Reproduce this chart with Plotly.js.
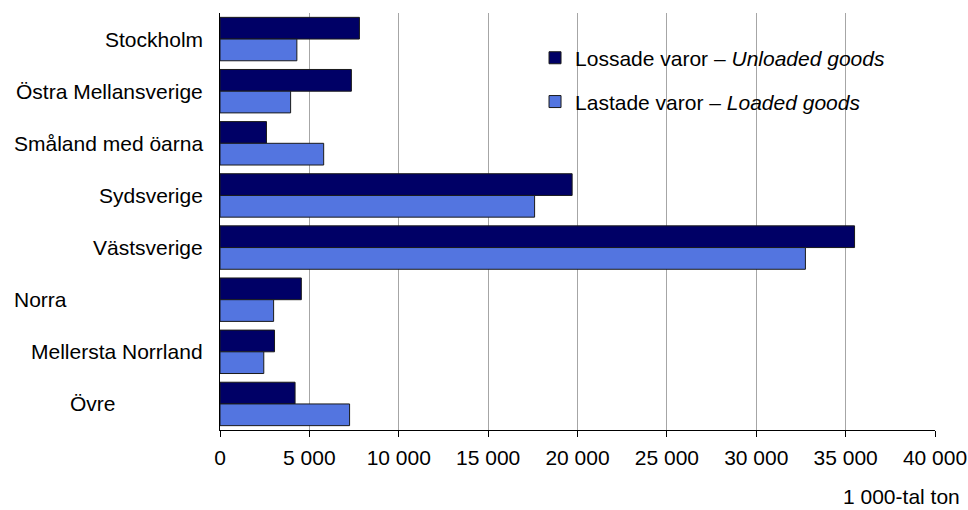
<!DOCTYPE html>
<html>
<head>
<meta charset="utf-8">
<script src="https://cdn.plot.ly/plotly-3.0.1.min.js"></script>
<style>
  html, body { margin: 0; padding: 0; background: #ffffff; }
  #chart { width: 968px; height: 510px; }
</style>
</head>
<body>
<div id="chart"></div>
<script>
// ---- Data (1 000-tal ton) ----
const categories = [
  "Stockholm",
  "Östra Mellansverige",
  "Småland med öarna",
  "Sydsverige",
  "Västsverige",
  "Norra",
  "Mellersta Norrland",
  "Övre"
];
const unloadedValues = [7800, 7350, 2600, 19700, 35500, 4550, 3050, 4200];
const loadedValues   = [4300, 3950, 5800, 17600, 32750, 3000, 2450, 7250];
const seriesNames = [
  "Lossade varor – <i>Unloaded goods</i>",
  "Lastade varor – <i>Loaded goods</i>"
];
const tickValues = [0, 5000, 10000, 15000, 20000, 25000, 30000, 35000, 40000];
const tickLabels = ["0", "5 000", "10 000", "15 000", "20 000", "25 000", "30 000", "35 000", "40 000"];
const unitLabel = "1 000-tal ton";

// ---- Styling ----
const FONT = "Liberation Sans, Arial, Helvetica, sans-serif";
const FS = 21;
const labelStyle = {
  "Norra": { xanchor: "left", xshift: -208 },
  "Övre":  { xanchor: "center", xshift: -127 }
};
const defaultLabel = { xanchor: "right", xshift: -15 };

const traces = [
  {
    type: "bar", orientation: "h",
    y: categories, x: unloadedValues,
    name: seriesNames[0], legendgroup: "a",
    marker: { color: "#000066", line: { color: "#1a1a1a", width: 1 } },
    hoverinfo: "skip"
  },
  {
    type: "bar", orientation: "h",
    y: categories, x: loadedValues,
    name: seriesNames[1], legendgroup: "b",
    marker: { color: "#5375E0", line: { color: "#1a1a1a", width: 1 } },
    hoverinfo: "skip"
  }
];

const annotations = categories.map(c => {
  const s = labelStyle[c] || defaultLabel;
  return {
    xref: "paper", yref: "y", x: 0, y: c,
    text: c, showarrow: false,
    xanchor: s.xanchor, xshift: s.xshift, yanchor: "middle",
    font: { family: FONT, size: FS, color: "#000000" }
  };
});
annotations.push({
  xref: "paper", yref: "paper", x: 1, y: 0,
  text: unitLabel, showarrow: false,
  xanchor: "right", yanchor: "bottom", xshift: 27, yshift: -80,
  font: { family: FONT, size: FS, color: "#000000" }
});

const layout = {
  width: 968, height: 510,
  margin: { l: 220, r: 33, t: 13, b: 80, pad: 0 },
  paper_bgcolor: "#ffffff", plot_bgcolor: "#ffffff",
  font: { family: FONT, size: FS, color: "#000000" },
  barmode: "group", bargap: 0.167, bargroupgap: 0,
  showlegend: true,
  legend: {
    x: 0.4406, y: 0.941, xanchor: "left", yanchor: "top",
    bgcolor: "rgba(0,0,0,0)", borderwidth: 0,
    traceorder: "grouped", tracegroupgap: 13.5,
    font: { family: FONT, size: FS, color: "#000000" }
  },
  xaxis: {
    range: [0, 40000], tickvals: tickValues, ticktext: tickLabels,
    showgrid: true, gridcolor: "#a6a6a6", gridwidth: 1,
    zeroline: false, showline: true, linecolor: "#000000", linewidth: 1,
    ticks: "outside", ticklen: 6, tickcolor: "#000000", tickwidth: 1,
    ticklabelstandoff: 3,
    tickfont: { family: FONT, size: FS, color: "#000000" },
    fixedrange: true
  },
  yaxis: {
    type: "category", autorange: "reversed",
    showticklabels: false, showgrid: false, zeroline: false,
    showline: true, linecolor: "#000000", linewidth: 1,
    ticks: "", fixedrange: true
  },
  annotations: annotations
};

Plotly.newPlot("chart", traces, layout, { displayModeBar: false, staticPlot: true });
</script>
</body>
</html>
